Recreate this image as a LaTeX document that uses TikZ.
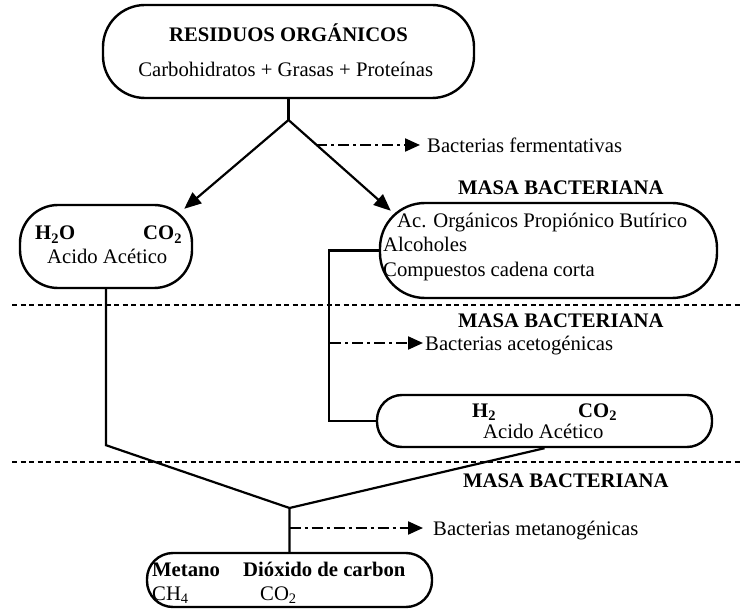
\documentclass[tikz,border=0pt]{standalone}
\usepackage{fontspec}
\setmainfont{Liberation Serif}
\usetikzlibrary{arrows.meta,calc}

\tikzset{
  caja/.style={draw, line width=2.4pt, inner sep=0pt},
  linea/.style={line width=2.2pt},
  flecha/.style={line width=2.2pt, -{Triangle[length=17pt,width=14pt]}},
  rayapunto/.style={line width=2.2pt, dash pattern=on 11pt off 4pt on 3pt off 4pt,
    -{Triangle[length=15pt,width=13pt]}},
  separa/.style={line width=2.2pt, dash pattern=on 5pt off 3.5pt},
  txt/.style={inner sep=0pt, anchor=base west},
  txtc/.style={inner sep=0pt, anchor=base}
}

\begin{document}
\begin{tikzpicture}[x=1pt,y=-1pt,font=\fontsize{20.7}{24}\selectfont]
\useasboundingbox (0,0) rectangle (741,609);

% cajas
\node[caja, minimum width=371pt, minimum height=93pt, rounded corners=42pt] (residuos) at (288.5,51.5) {};
\node[caja, minimum width=172pt, minimum height=83pt, rounded corners=38pt] (acidoL) at (106,246.5) {};
\node[caja, minimum width=337pt, minimum height=95pt, rounded corners=45pt] (masaR) at (548.5,250.5) {};
\node[caja, minimum width=335pt, minimum height=52pt, rounded corners=25pt] (acidoR) at (544.5,421) {};
\node[caja, minimum width=285pt, minimum height=54pt, rounded corners=26pt] (productos) at (289.5,580) {};

% textos
\node[txtc] (tRes) at (288.5,42) {\textbf{RESIDUOS ORGÁNICOS}};
\node[txtc] (tCarb) at (285.7,77) {Carbohidratos + Grasas + Proteínas};
\node[txt] (bfer) at (427,153) {Bacterias fermentativas};
\node[txt] (masa1) at (458,195) {\textbf{MASA BACTERIANA}};
\node[txt] (tHdosO) at (35,240) {\textbf{H\textsubscript{2}O}};
\node[txt] (tCOa) at (143,240) {\textbf{CO\textsubscript{2}}};
\node[txt] (tAcA) at (47,264) {Acido Acético};
\node[txt] (tAc) at (397,228) {Ac. Orgánicos Propiónico Butírico};
\node[txt] (tAlc) at (383,252) {Alcoholes};
\node[txt] (tComp) at (383,277) {Compuestos cadena corta};
\node[txt] (masa2) at (458,327) {\textbf{MASA BACTERIANA}};
\node[txt] (bace) at (425,350) {Bacterias acetogénicas};
\node[txt] (tHdos) at (472,417) {\textbf{H\textsubscript{2}}};
\node[txt] (tCOb) at (578,417) {\textbf{CO\textsubscript{2}}};
\node[txt] (tAcB) at (483,438) {Acido Acético};
\node[txt] (masa3) at (463,487) {\textbf{MASA BACTERIANA}};
\node[txt] (bmet) at (433,535) {Bacterias metanogénicas};
\node[txt] (tMet) at (152,576) {\textbf{Metano}};
\node[txt] (tDio) at (243,576) {\textbf{Dióxido de carbon}};
\node[txt] (tCH) at (152,600) {CH\textsubscript{4}};
\node[txt] (tCOc) at (260,600) {CO\textsubscript{2}};

% separadores
\draw[separa] (12,305) -- (741,305);
\draw[separa] (12,462) -- (741,462);

% conexiones
\coordinate (fork) at (288.5,120);
\draw[linea] (residuos.south) -- (fork);
\draw[flecha] (fork) -- ($(acidoL.north east)+(-9,5)$);
\draw[flecha] (fork) -- ($(masaR.north west)+(12,9)$);
\coordinate (d1) at (316,145);
\draw[rayapunto, shorten >=7pt] (d1) -- (d1 -| bfer.west);

\draw[linea] (masaR.west) -- ++(-50,0) |- (acidoR.west);
\coordinate (d2) at (330,343);
\draw[rayapunto, shorten >=2pt] (d2) -- (d2 -| bace.west);

\coordinate (apex) at (289.5,508);
\draw[linea] (acidoL.south) -- ++(0,156) -- (apex);
\draw[linea] (acidoR.south) -- (apex) -- (productos.north);
\coordinate (d3) at (289.5,528);
\draw[rayapunto, shorten >=10pt] (d3) -- (d3 -| bmet.west);
\end{tikzpicture}
\end{document}
